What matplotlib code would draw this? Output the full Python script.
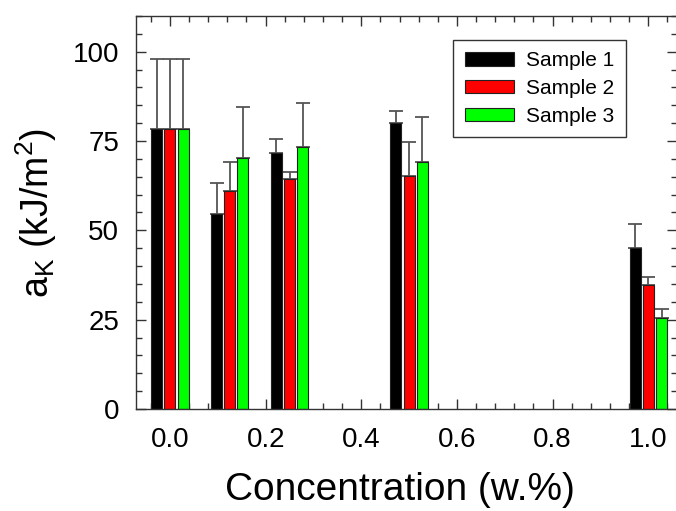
import matplotlib
matplotlib.use("Agg")
import matplotlib.pyplot as plt
from matplotlib.ticker import MultipleLocator

plt.rcParams['font.family'] = ['Liberation Sans', 'DejaVu Sans']
plt.rcParams['mathtext.default'] = 'regular'

# concentrations (w.%) and impact strength per sample, with upper error
conc = [0.0, 0.125, 0.25, 0.5, 1.0]
sample1 = [78.3, 54.5, 71.6, 80.1, 45.1]
err1 = [19.6, 8.7, 4.0, 3.3, 6.8]
sample2 = [78.3, 61.0, 64.4, 65.2, 34.6]
err2 = [19.6, 8.2, 1.8, 9.5, 2.4]
sample3 = [78.3, 70.2, 73.2, 69.1, 25.6]
err3 = [19.6, 14.3, 12.5, 12.7, 2.3]
labels = ['Sample 1', 'Sample 2', 'Sample 3']
colors = ['#000000', '#ff0000', '#00ff00']

fig = plt.figure(figsize=(6.76, 5.11), dpi=100)
ax = fig.add_axes([136 / 676, 102 / 511, 541 / 676, 393 / 511])

offset = 0.0276
width = 0.023
series = [(sample1, err1), (sample2, err2), (sample3, err3)]
for i, (vals, errs) in enumerate(series):
    xs = [c + (i - 1) * offset for c in conc]
    ax.bar(xs, vals, width=width, color=colors[i], edgecolor='#222222',
           linewidth=0.8, label=labels[i], zorder=2)
    ax.errorbar(xs, vals, yerr=[[0] * len(errs), errs], fmt='none',
                ecolor='#555555', elinewidth=1.3, capsize=5, capthick=1.3,
                zorder=1)

ax.set_xlim(-0.071, 1.06)
ax.set_ylim(0, 110)
ax.xaxis.set_major_locator(MultipleLocator(0.2))
ax.xaxis.set_minor_locator(MultipleLocator(0.04))
ax.yaxis.set_major_locator(MultipleLocator(25))
ax.yaxis.set_minor_locator(MultipleLocator(5))
ax.xaxis.set_major_formatter(plt.FuncFormatter(lambda v, p: f'{v:.1f}'))

ax.tick_params(which='both', direction='in', top=True, right=True,
               width=1, color='#333333', labelsize=20)
ax.tick_params(which='major', length=7)
ax.tick_params(which='minor', length=4.5)
ax.tick_params(axis='x', pad=13)
ax.tick_params(axis='y', pad=12)
for sp in ax.spines.values():
    sp.set_color('#333333')
    sp.set_linewidth(1)

ax.set_xlabel('Concentration (w.%)', fontsize=28)
ax.xaxis.set_label_coords(0.487, -0.16)
ax.set_ylabel(r'a$_K$ (kJ/m$^2$)', fontsize=27, labelpad=10)

leg = ax.legend(loc='upper right', bbox_to_anchor=(626 / 676, 471 / 511),
                bbox_transform=fig.transFigure, borderaxespad=0,
                fontsize=15, fancybox=False, framealpha=1,
                edgecolor='#333333', handlelength=2.35, handleheight=0.6,
                labelspacing=0.42, handletextpad=0.6, borderpad=0.55)
leg.get_frame().set_linewidth(1)

fig.savefig('out.png', dpi=100)
